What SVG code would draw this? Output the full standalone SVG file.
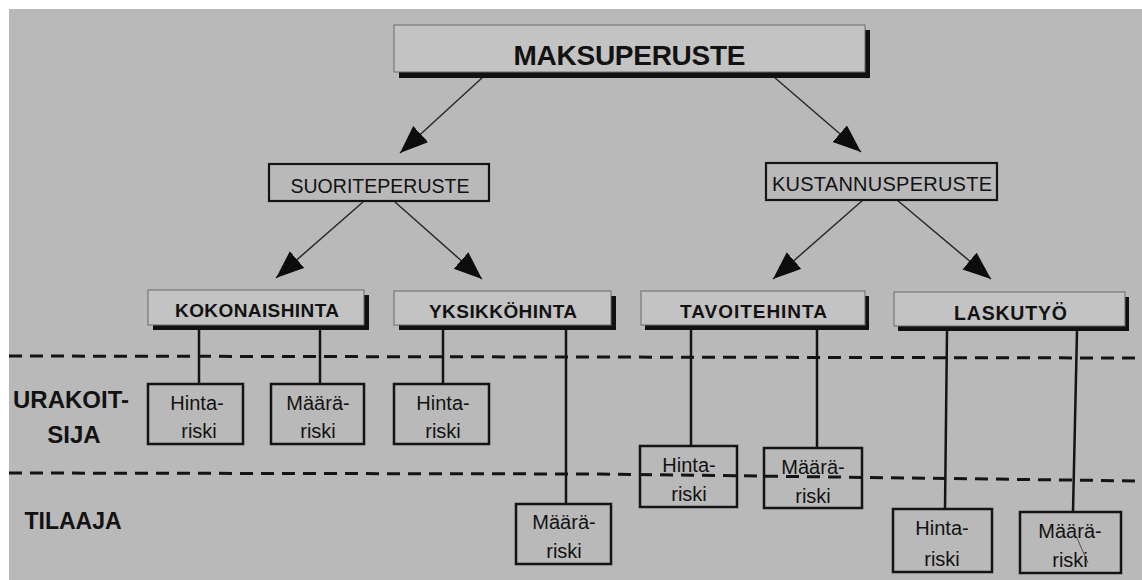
<svg xmlns="http://www.w3.org/2000/svg" width="1142" height="580" viewBox="0 0 1142 580">
  <style>
    .bg { fill: #b9b9b9; }
    .shadow { fill: #111; }
    .head { fill: #c3c3c3; stroke: #6a6a6a; stroke-width: 1; }
    .plain { fill: none; stroke: #141414; stroke-width: 2.2; }
    .risk { fill: none; stroke: #141414; stroke-width: 2.5; }
    .t { font-family: "Liberation Sans", Arial, Helvetica, sans-serif; fill: #121212; text-anchor: middle; }
    .b { font-weight: bold; }
    .arrow { stroke: #2a2a2a; stroke-width: 1.5; fill: none; marker-end: url(#tri); }
    .stem { stroke: #141414; stroke-width: 2.5; fill: none; }
    .dash { stroke: #141414; stroke-width: 3; stroke-dasharray: 13 8; fill: none; }
  </style>
  <defs>
    <marker id="tri" markerUnits="userSpaceOnUse" markerWidth="30" markerHeight="24" refX="28" refY="11" orient="auto">
      <path d="M0,0 L28,11 L0,22 Z" fill="#0c0c0c"/>
    </marker>
  </defs>

  <!-- page -->
  <rect x="0" y="0" width="1142" height="580" fill="#ffffff"/>
  <rect class="bg" x="9" y="9" width="1133" height="571"/>

  <!-- zone separators -->
  <g id="zones">
    <line class="dash" x1="9" y1="356" x2="1142" y2="358"/>
    <polyline class="dash" points="9,473 600,474 1142,481"/>
    <text class="t b" x="71" y="408" font-size="24">URAKOIT-</text>
    <text class="t b" x="74" y="443" font-size="24">SIJA</text>
    <text class="t b" x="73" y="529" font-size="23">TILAAJA</text>
  </g>

  <!-- connectors -->
  <g id="connectors">
    <line class="arrow" x1="483" y1="77" x2="400" y2="153"/>
    <line class="arrow" x1="774" y1="77" x2="861" y2="152"/>
    <line class="arrow" x1="363" y1="202" x2="276" y2="278"/>
    <line class="arrow" x1="395" y1="202" x2="482" y2="279"/>
    <line class="arrow" x1="863" y1="200" x2="773" y2="279"/>
    <line class="arrow" x1="897" y1="200" x2="991" y2="279"/>

    <line class="stem" x1="199" y1="330" x2="199" y2="384"/>
    <line class="stem" x1="320" y1="330" x2="320" y2="384"/>
    <line class="stem" x1="443" y1="329" x2="443" y2="384"/>
    <line class="stem" x1="566" y1="329" x2="566" y2="504"/>
    <line class="stem" x1="691" y1="330" x2="691" y2="446"/>
    <line class="stem" x1="817" y1="330" x2="817" y2="448"/>
    <line class="stem" x1="947" y1="331" x2="945" y2="509"/>
    <line class="stem" x1="1077" y1="331" x2="1073" y2="512"/>
    <line x1="1077" y1="538" x2="1088" y2="563" stroke="#333" stroke-width="0.8"/>
  </g>

  <!-- top level -->
  <g id="maksuperuste">
    <rect class="shadow" x="399" y="30" width="471" height="48"/>
    <rect class="head" x="394" y="25" width="471" height="47"/>
    <text class="t b" x="629.5" y="65" font-size="28" textLength="232">MAKSUPERUSTE</text>
  </g>

  <!-- second level -->
  <g id="suoriteperuste">
    <rect class="plain" x="269" y="164" width="220" height="37"/>
    <text class="t" x="380" y="193" font-size="19.5" textLength="179">SUORITEPERUSTE</text>
  </g>
  <g id="kustannusperuste">
    <rect class="plain" x="766" y="163" width="231" height="37"/>
    <text class="t" x="882" y="191" font-size="20" textLength="220">KUSTANNUSPERUSTE</text>
  </g>

  <!-- third level -->
  <g id="kokonaishinta">
    <rect class="shadow" x="153" y="295" width="216" height="35"/>
    <rect class="head" x="148" y="290" width="216" height="35"/>
    <text class="t b" x="257" y="317" font-size="19" textLength="164">KOKONAISHINTA</text>
  </g>
  <g id="yksikkohinta">
    <rect class="shadow" x="399" y="296" width="217" height="34"/>
    <rect class="head" x="394" y="291" width="217" height="34"/>
    <text class="t b" x="503" y="318" font-size="19" textLength="148">YKSIKKÖHINTA</text>
  </g>
  <g id="tavoitehinta">
    <rect class="shadow" x="645" y="296" width="224" height="34"/>
    <rect class="head" x="641" y="291" width="224" height="34"/>
    <text class="t b" x="753.5" y="318" font-size="19" textLength="147">TAVOITEHINTA</text>
  </g>
  <g id="laskutyo">
    <rect class="shadow" x="898" y="297" width="231" height="34"/>
    <rect class="head" x="894" y="292" width="231" height="34"/>
    <text class="t b" x="1010.5" y="320" font-size="19.5" textLength="113">LASKUTYÖ</text>
  </g>

  <!-- risk boxes -->
  <g id="kok-hinta">
    <rect class="risk" x="148" y="384" width="95" height="60"/>
    <text class="t" x="197" y="410" font-size="20">Hinta-</text>
    <text class="t" x="199" y="438" font-size="20">riski</text>
  </g>
  <g id="kok-maara">
    <rect class="risk" x="271" y="384" width="93" height="60"/>
    <text class="t" x="318" y="410" font-size="20">Määrä-</text>
    <text class="t" x="318" y="438" font-size="20">riski</text>
  </g>
  <g id="yks-hinta">
    <rect class="risk" x="394" y="384" width="95" height="60"/>
    <text class="t" x="443" y="410" font-size="20">Hinta-</text>
    <text class="t" x="443" y="438" font-size="20">riski</text>
  </g>
  <g id="yks-maara">
    <rect class="risk" x="516" y="504" width="95" height="60"/>
    <text class="t" x="564" y="529" font-size="20">Määrä-</text>
    <text class="t" x="564" y="558" font-size="20">riski</text>
  </g>
  <g id="tav-hinta">
    <rect class="risk" x="640" y="446" width="97" height="61"/>
    <text class="t" x="689" y="472" font-size="20">Hinta-</text>
    <text class="t" x="689" y="501" font-size="20">riski</text>
  </g>
  <g id="tav-maara">
    <rect class="risk" x="764" y="448" width="98" height="60"/>
    <text class="t" x="813" y="474" font-size="20">Määrä-</text>
    <text class="t" x="813" y="503" font-size="20">riski</text>
  </g>
  <g id="las-hinta">
    <rect class="risk" x="893" y="509" width="99" height="63"/>
    <text class="t" x="942" y="535" font-size="20">Hinta-</text>
    <text class="t" x="942" y="566" font-size="20">riski</text>
  </g>
  <g id="las-maara">
    <rect class="risk" x="1020" y="512" width="101" height="61"/>
    <text class="t" x="1070" y="538" font-size="20">Määrä-</text>
    <text class="t" x="1070" y="567" font-size="20">riski</text>
  </g>
</svg>
